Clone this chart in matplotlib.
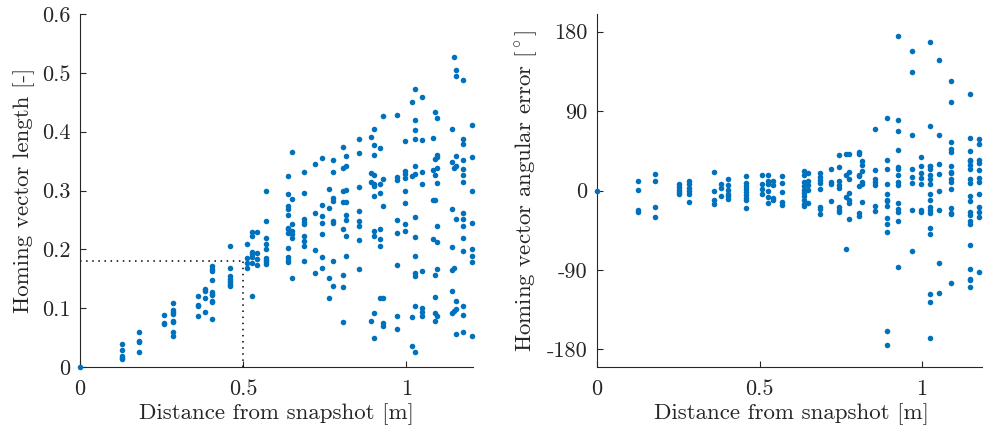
import matplotlib
matplotlib.use("Agg")
import matplotlib.pyplot as plt
import numpy as np

plt.rcParams['font.family'] = ['cmr10', 'DejaVu Serif']
plt.rcParams['mathtext.fontset'] = 'cm'
plt.rcParams['axes.unicode_minus'] = False

# ---- Left panel: homing vector length per distance column ----
len_dist = [0.0, 0.128, 0.181, 0.257, 0.286, 0.361, 0.383, 0.404, 0.460, 0.511,
            0.527, 0.542, 0.571, 0.638, 0.650, 0.686, 0.722, 0.743, 0.765, 0.775,
            0.807, 0.817, 0.856, 0.893, 0.902, 0.920, 0.929, 0.971, 0.996, 1.019,
            1.028, 1.050, 1.082, 1.089, 1.096, 1.140, 1.148, 1.154, 1.175, 1.202]
len_vals = [
    [0.0],
    [0.039, 0.029, 0.019, 0.016, 0.014],
    [0.060, 0.044, 0.042, 0.026],
    [0.088, 0.075, 0.073],
    [0.109, 0.097, 0.093, 0.090, 0.079, 0.076, 0.060, 0.052],
    [0.120, 0.105, 0.104, 0.086],
    [0.133, 0.130, 0.117, 0.094],
    [0.171, 0.167, 0.164, 0.148, 0.128, 0.124, 0.122, 0.113, 0.110, 0.082],
    [0.205, 0.169, 0.154, 0.150, 0.146, 0.143, 0.139, 0.137],
    [0.209, 0.185, 0.177, 0.168],
    [0.230, 0.222, 0.196, 0.192, 0.187, 0.177, 0.121],
    [0.230, 0.194, 0.183, 0.174],
    [0.300, 0.248, 0.220, 0.209, 0.200, 0.186, 0.182, 0.178, 0.175],
    [0.324, 0.294, 0.273, 0.268, 0.259, 0.237, 0.234, 0.228, 0.203, 0.187, 0.182, 0.179],
    [0.365, 0.285, 0.243, 0.231, 0.226, 0.219, 0.152],
    [0.332, 0.295, 0.251, 0.247, 0.243, 0.223, 0.215, 0.206, 0.180],
    [0.345, 0.262, 0.199, 0.159],
    [0.355, 0.276, 0.257, 0.245, 0.226, 0.187, 0.168],
    [0.303, 0.270, 0.152, 0.118],
    [0.352, 0.332, 0.287, 0.283, 0.248, 0.244, 0.181, 0.137],
    [0.374, 0.338, 0.300, 0.280, 0.234, 0.156, 0.136, 0.077],
    [0.359, 0.341, 0.301, 0.281, 0.259, 0.250, 0.223, 0.189],
    [0.387, 0.363, 0.306, 0.265, 0.249, 0.239, 0.216, 0.166],
    [0.391, 0.329, 0.315, 0.079],
    [0.404, 0.377, 0.361, 0.327, 0.311, 0.307, 0.291, 0.232, 0.223, 0.091, 0.049],
    [0.373, 0.311, 0.295, 0.235, 0.217, 0.206, 0.117],
    [0.427, 0.319, 0.274, 0.117, 0.075, 0.069],
    [0.429, 0.323, 0.317, 0.250, 0.228, 0.173, 0.087, 0.065],
    [0.384, 0.333, 0.328, 0.321, 0.299, 0.278, 0.243, 0.231],
    [0.451, 0.325, 0.085, 0.035],
    [0.472, 0.420, 0.402, 0.387, 0.341, 0.328, 0.255, 0.221, 0.189, 0.159, 0.155, 0.104, 0.026],
    [0.459, 0.386, 0.331, 0.311, 0.163, 0.100, 0.093, 0.086],
    [0.389, 0.335, 0.284, 0.218],
    [0.433, 0.354, 0.327, 0.284, 0.157, 0.119, 0.092, 0.078],
    [0.423, 0.361, 0.357, 0.338, 0.313, 0.240, 0.213, 0.167, 0.086],
    [0.404, 0.349, 0.268, 0.204, 0.165, 0.130, 0.091],
    [0.527, 0.339, 0.168, 0.095],
    [0.504, 0.494, 0.359, 0.342, 0.252, 0.113, 0.098, 0.056],
    [0.487, 0.387, 0.379, 0.351, 0.337, 0.326, 0.314, 0.262, 0.252, 0.239, 0.219, 0.198, 0.104, 0.089, 0.059],
    [0.411, 0.357, 0.300, 0.244, 0.201, 0.188, 0.179, 0.052],
]

# ---- Right panel: homing vector angular error per distance column ----
ang_dist = [0.0, 0.127, 0.179, 0.253, 0.284, 0.359, 0.382, 0.402, 0.458, 0.509,
            0.525, 0.541, 0.570, 0.637, 0.650, 0.686, 0.721, 0.744, 0.765, 0.776,
            0.806, 0.816, 0.855, 0.893, 0.925, 0.970, 0.996, 1.026, 1.051, 1.089,
            1.147, 1.176]
ang_vals = [
    [0.0],
    [11.3, 1.1, -22.6, -24.5],
    [18.5, 11.3, -18.5, -30.2],
    [7.5, 4.2, 1.1, -1.9, -4.2],
    [11.0, 7.5, 2.3, -0.8, -3.8, -13.2],
    [21.5, -0.8, -10.2, -15.1],
    [7.5, 3.0, -5.7],
    [13.2, 5.7, 1.1, -3.4, -6.4, -9.4],
    [16.2, 8.7, 4.9, 1.9, -1.9, -5.3, -8.3, -11.0, -19.3],
    [17.0, 7.5, 1.9, -4.5],
    [17.0, 10.5, 7.5, -0.8, -7.6, -13.9],
    [10.5, 6.4, -9.0, -11.3],
    [16.2, 8.3, -1.9, -13.2, -16.2],
    [21.9, 18.1, 9.4, 4.9, 1.1, -2.6, -6.4, -10.2, -15.8, -17.8],
    [19.3, 10.5, 5.7, 1.1, -13.9],
    [19.3, 15.5, 11.7, 8.7, 1.9, -18.5, -21.5, -26.8],
    [24.5, 9.8, 7.5, -11.7],
    [40.0, 26.8, 11.0, 6.4, 2.6, -18.9, -22.3, -24.5],
    [41.1, 18.1, -7.9, -66.0],
    [41.1, 20.4, 12.5, -2.6, -10.2, -14.7, -32.0],
    [43.8, 41.5, 18.1, 16.2, 4.9, -25.3, -29.1],
    [33.2, 29.4, 21.9, 9.8, 7.5, -12.8],
    [70.2, 23.0, 12.5, 9.4, 6.0, -17.8, -23.4],
    [82.3, 35.1, 24.5, 6.8, -4.5, -10.2, -12.1, -17.8, -30.9, -37.4, -46.8, -159.3, -175.5],
    [175.5, 80.4, 67.2, 46.4, 26.4, 23.8, 18.1, 9.4, 6.0, -14.7, -21.5, -24.5, -34.0, -86.4],
    [158.2, 134.8, 63.0, 24.5, 15.5, 8.3, -22.6, -68.3],
    [37.7, 27.2, 20.0, 14.4, 7.5, -22.3, -23.8],
    [168.0, 72.8, 27.5, 28.3, 23.8, 18.1, 12.5, 6.8, -4.5, -11.3, -18.5, -22.3, -26.0, -43.0, -49.8, -117.8, -126.0, -167.2],
    [148.3, 63.0, 29.8, 18.5, 0.0, -21.9, -81.9, -115.9],
    [123.8, 100.0, 55.1, 47.2, 43.4, 27.5, 20.8, 19.3, 12.5, 9.4, 1.9, -19.6, -25.3, -26.4, -104.5],
    [109.8, 59.7, 45.3, 33.2, 35.1, 24.9, 28.7, 12.5, 8.7, -5.7, -12.1, -24.5, -27.2, -34.7, -37.4, -61.5, -89.5, -101.9, -100.0, -109.0],
    [57.8, 53.2, 35.1, 30.6, 23.0, 14.4, 9.4, -3.8, -18.5, -24.5, -29.8, -92.5],
]

left_xticks = [0, 0.5, 1]
left_xticklabels = ['0', '0.5', '1']
left_yticks = [0, 0.1, 0.2, 0.3, 0.4, 0.5, 0.6]
left_yticklabels = ['0', '0.1', '0.2', '0.3', '0.4', '0.5', '0.6']
right_yticks = [-180, -90, 0, 90, 180]
right_yticklabels = ['-180', '-90', '0', '90', '180']
ref_dist = 0.5
ref_len = 0.18

color = '#0072BD'
fs = 16
lfs = 16.5

def flatten(xs, vals):
    X, Y = [], []
    for x, vs in zip(xs, vals):
        for v in vs:
            X.append(x)
            Y.append(v)
    return np.array(X), np.array(Y)

fig = plt.figure(figsize=(9.83, 4.34), dpi=100)
W, H = 983, 434

def style(ax):
    ax.spines['top'].set_visible(False)
    ax.spines['right'].set_visible(False)
    for s in ('left', 'bottom'):
        ax.spines[s].set_linewidth(0.8)
        ax.spines[s].set_color('#262626')
    ax.tick_params(direction='in', length=4, width=0.8, colors='#262626',
                   labelsize=fs, labelcolor='#262626')
    ax.tick_params(axis='y', pad=7)
    ax.tick_params(axis='x', pad=9)

# Left axes
ax1 = fig.add_axes([80 / W, (H - 367) / H, 393 / W, 353 / H])
lx, ly = flatten(len_dist, len_vals)
ax1.scatter(lx, ly, s=16, color=color, linewidths=0, clip_on=False, zorder=3)
ax1.plot([0, ref_dist], [ref_len, ref_len], ls=(0, (1, 3)), color='black', lw=1.1)
ax1.plot([ref_dist, ref_dist], [0, ref_len], ls=(0, (1, 3)), color='black', lw=1.1)
ax1.set_xlim(0, 1.205)
ax1.set_ylim(0, 0.6)
ax1.set_xticks(left_xticks)
ax1.set_xticklabels(left_xticklabels)
ax1.set_yticks(left_yticks)
ax1.set_yticklabels(left_yticklabels)
style(ax1)
ax1.set_xlabel('Distance from snapshot [m]', fontsize=lfs, color='#262626', labelpad=3)
ax1.set_ylabel('Homing vector length [-]', fontsize=lfs, color='#262626', labelpad=5)

# Right axes
ax2 = fig.add_axes([597 / W, (H - 367) / H, 390 / W, 353 / H])
rx, ry = flatten(ang_dist, ang_vals)
ax2.scatter(rx, ry, s=16, color=color, linewidths=0, clip_on=False, zorder=3)
ax2.set_xlim(0, 1.2)
ax2.set_ylim(-200, 200)
ax2.set_xticks(left_xticks)
ax2.set_xticklabels(left_xticklabels)
ax2.set_yticks(right_yticks)
ax2.set_yticklabels(right_yticklabels)
style(ax2)
ax2.set_xlabel('Distance from snapshot [m]', fontsize=lfs, color='#262626', labelpad=3)
ax2.set_ylabel(r'Homing vector angular error [$^\circ$]', fontsize=lfs, color='#262626', labelpad=5)

fig.savefig('out.png', dpi=100)
